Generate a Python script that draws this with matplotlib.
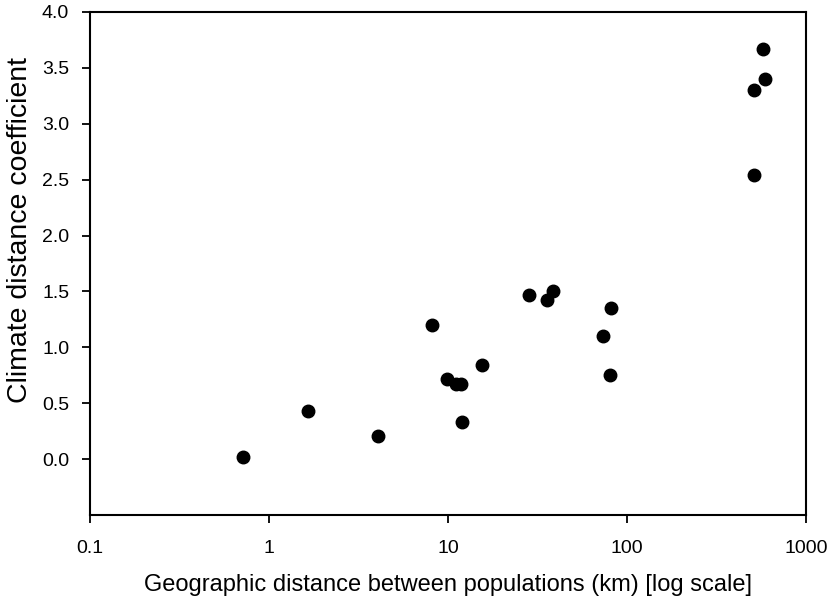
import matplotlib
matplotlib.use("Agg")
import matplotlib.pyplot as plt
from matplotlib.ticker import FixedLocator, FixedFormatter, NullLocator

plt.rcParams['font.family'] = ['Liberation Sans', 'DejaVu Sans']

# geographic distance (km) and climate distance coefficient
dist_km = [0.716, 1.65, 4.06, 8.17, 9.84, 11.1, 11.8, 11.9, 15.5,
           28.4, 35.6, 38.5, 73.5, 81.7, 80.7, 514, 514, 590, 573]
climate = [0.02, 0.43, 0.21, 1.20, 0.72, 0.67, 0.67, 0.33, 0.84,
           1.47, 1.42, 1.50, 1.10, 1.35, 0.75, 2.54, 3.30, 3.40, 3.67]

xticks = [0.1, 1, 10, 100, 1000]
xtick_labels = ["0.1", "1", "10", "100", "1000"]
yticks = [0.0, 0.5, 1.0, 1.5, 2.0, 2.5, 3.0, 3.5, 4.0]

fig = plt.figure(figsize=(8.33, 6.0), dpi=100)
ax = fig.add_axes([90 / 833, 85 / 600, 716 / 833, 503 / 600])

ax.plot(dist_km, climate, 'o', color='black', markersize=9, linestyle='none')

ax.set_xscale('log')
ax.set_xlim(0.1, 1000)
ax.set_ylim(-0.5, 4.0)
ax.xaxis.set_major_locator(FixedLocator(xticks))
ax.xaxis.set_major_formatter(FixedFormatter(xtick_labels))
ax.xaxis.set_minor_locator(NullLocator())
ax.set_yticks(yticks)
ax.set_yticklabels(["%.1f" % v for v in yticks])

for s in ax.spines.values():
    s.set_linewidth(1.5)
ax.tick_params(direction='out', length=6, width=1.3, labelsize=14)
ax.tick_params(axis='x', pad=12)
ax.tick_params(axis='y', pad=9)

ax.set_xlabel("Geographic distance between populations (km) [log scale]",
              fontsize=17, labelpad=12)
ax.set_ylabel("Climate distance coefficient", fontsize=20.5)
ax.yaxis.set_label_coords(-0.079, 0.567)

fig.savefig("out.png", dpi=100)
